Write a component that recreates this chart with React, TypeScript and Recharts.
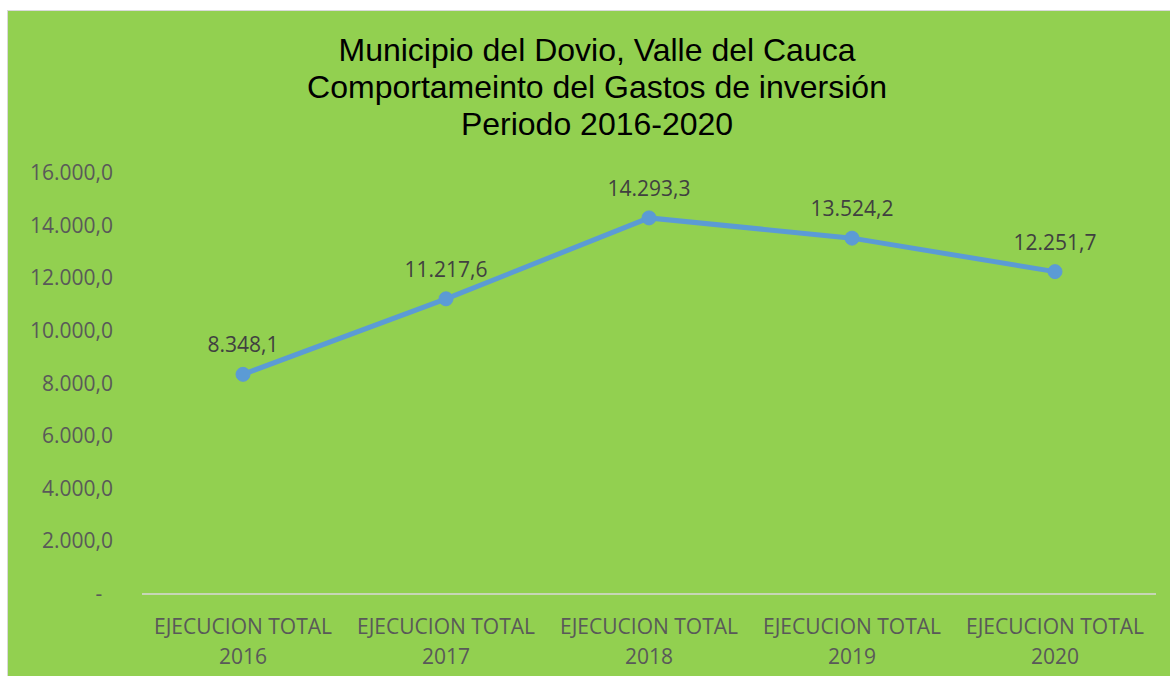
import React from "react";
import { LineChart, Line, XAxis, YAxis, LabelList } from "recharts";

const categories = [
	"EJECUCION TOTAL 2016",
	"EJECUCION TOTAL 2017",
	"EJECUCION TOTAL 2018",
	"EJECUCION TOTAL 2019",
	"EJECUCION TOTAL 2020",
];
const gastos = [8348.1, 11217.6, 14293.3, 13524.2, 12251.7];
const yTicks = [0, 2000, 4000, 6000, 8000, 10000, 12000, 14000, 16000];
const titleLines = [
	"Municipio del Dovio, Valle del Cauca",
	"Comportameinto del Gastos de inversión",
	"Periodo 2016-2020",
];

const data = categories.map((c, i) => ({ name: c, value: gastos[i] }));

const fmt = (v: number) =>
	v.toLocaleString("de-DE", { minimumFractionDigits: 1, maximumFractionDigits: 1 });

const labelFont = "'Open Sans', 'Noto Sans', sans-serif";

function YTick(props: any) {
	const { x, y, payload } = props;
	if (payload.value === 0) {
		return (
			<text x={x - 35} y={y} dy={7} textAnchor="middle" fill="#595959" fontSize={21} fontFamily={labelFont}>
				-
			</text>
		);
	}
	return (
		<text x={x - 21} y={y} dy={7} textAnchor="end" fill="#595959" fontSize={21} fontFamily={labelFont}>
			{fmt(payload.value)}
		</text>
	);
}

function XTick(props: any) {
	const { x, y, payload } = props;
	const parts = String(payload.value).split(" ");
	const year = parts.pop();
	return (
		<g>
			<text x={x} y={y + 32} textAnchor="middle" fill="#595959" fontSize={21} fontFamily={labelFont}>
				{parts.join(" ")}
			</text>
			<text x={x} y={y + 62} textAnchor="middle" fill="#595959" fontSize={21} fontFamily={labelFont}>
				{year}
			</text>
		</g>
	);
}

export default function App() {
	return (
		<div
			style={{
				position: "absolute",
				left: 7,
				top: 10,
				width: 1163,
				height: 666,
				boxSizing: "border-box",
				background: "#92D050",
				border: "1px solid #D9D9D9",
				borderRight: "none",
				borderBottom: "none",
			}}
		>
			<div
				style={{
					position: "absolute",
					left: 0,
					top: 21,
					width: 1178,
					textAlign: "center",
					fontFamily: "'Liberation Sans', Arial, sans-serif",
					fontSize: 32,
					lineHeight: "37px",
					color: "#000",
				}}
			>
				{titleLines.map((t) => (
					<div key={t}>{t}</div>
				))}
			</div>
			<div style={{ position: "absolute", left: -1, top: -1 }}>
				<LineChart
					width={1163}
					height={666}
					data={data}
					margin={{ top: 163, right: 14, left: 0, bottom: 0 }}
				>
					<XAxis
						dataKey="name"
						height={82}
						padding={{ left: 101, right: 101 }}
						axisLine={{ stroke: "#D9D9D9", strokeWidth: 1.5 }}
						tickLine={false}
						tick={<XTick />}
						interval={0}
					/>
					<YAxis
						width={135}
						domain={[0, 16000]}
						ticks={yTicks}
						axisLine={false}
						tickLine={false}
						tick={<YTick />}
					/>
					<Line
						type="linear"
						dataKey="value"
						stroke="#5B9BD5"
						strokeWidth={5}
						dot={{ r: 7, fill: "#5B9BD5", stroke: "#5B9BD5", strokeWidth: 1 }}
						isAnimationActive={false}
					>
						<LabelList
							dataKey="value"
							position="top"
							offset={22}
							formatter={(v: any) => fmt(Number(v))}
							fill="#404040"
							fontSize={21}
							fontFamily={labelFont}
						/>
					</Line>
				</LineChart>
			</div>
		</div>
	);
}
